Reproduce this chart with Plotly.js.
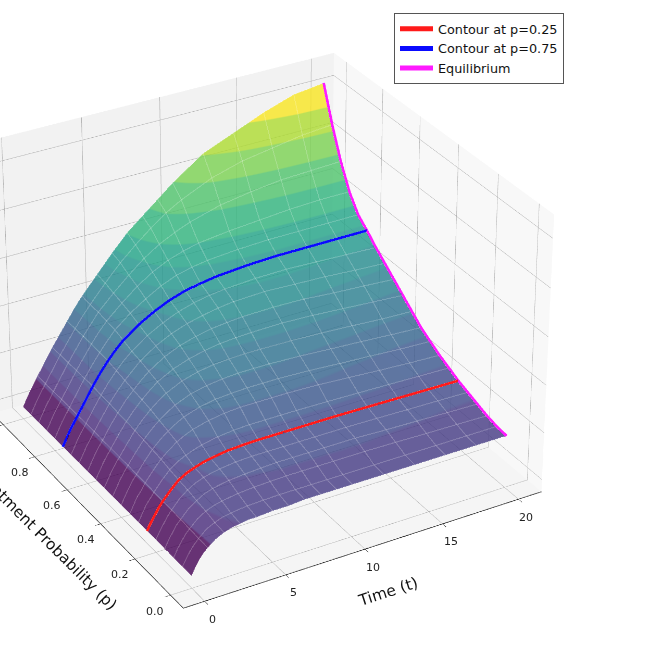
<!DOCTYPE html>
<html><head><meta charset="utf-8">
<script src="https://cdn.plot.ly/plotly-3.0.1.min.js"></script>
<style>html,body{margin:0;padding:0;width:655px;height:655px;overflow:hidden;background:#fff}
#wrap{position:absolute;left:0;top:0;width:655px;height:655px;overflow:hidden}
#plot{position:absolute}</style></head>
<body><div id="wrap"><div id="plot"></div></div>
<script>
var timeValues=[0,.25,.5,.75,1,1.5,2,2.5,3,3.5,4,5,6,7,8,9,10,12,14,16,18,20];
var probValues=[0,.05,.1,.15,.2,.25,.3,.35,.4,.45,.5,.55,.6,.65,.7,.75,.8,.85,.9,.95,1];
var zP000=[0,.03,.055,.075,.09,.115,.13,.14,.145,.15,.15,.155,.155,.16,.16,.16,.16,.16,.16,.16,.16,.16];
var zP005=[0,.03,.055,.075,.092,.12,.135,.147,.152,.157,.16,.163,.165,.165,.165,.165,.165,.165,.165,.165,.165,.165];
var zP010=[0,.03,.055,.078,.095,.125,.145,.157,.165,.17,.175,.18,.183,.185,.185,.185,.185,.185,.183,.18,.178,.175];
var zP015=[0,.03,.055,.08,.097,.13,.152,.17,.18,.187,.192,.198,.202,.205,.205,.205,.205,.205,.2,.197,.193,.19];
var zP020=[0,.03,.055,.08,.1,.135,.16,.178,.19,.198,.204,.212,.215,.215,.215,.215,.215,.215,.213,.21,.208,.205];
var zP025=[0,.03,.055,.08,.1,.135,.165,.183,.195,.205,.212,.222,.226,.228,.228,.228,.228,.228,.226,.224,.222,.22];
var zP030=[0,.03,.06,.08,.102,.14,.172,.195,.21,.222,.232,.245,.252,.255,.255,.255,.255,.253,.25,.247,.243,.24];
var zP035=[0,.03,.06,.08,.105,.145,.18,.207,.23,.247,.26,.277,.287,.292,.292,.292,.292,.288,.28,.272,.265,.26];
var zP040=[0,.03,.06,.085,.105,.147,.185,.215,.24,.26,.277,.298,.31,.315,.318,.318,.318,.313,.305,.298,.29,.285];
var zP045=[0,.03,.06,.085,.107,.15,.19,.222,.25,.272,.292,.318,.332,.34,.345,.345,.345,.34,.332,.325,.317,.31];
var zP050=[0,.03,.06,.085,.107,.152,.195,.23,.26,.285,.307,.337,.355,.365,.37,.372,.372,.37,.365,.358,.35,.345];
var zP055=[0,.03,.06,.085,.108,.155,.198,.235,.267,.295,.32,.353,.375,.39,.4,.405,.408,.41,.405,.397,.388,.38];
var zP060=[0,.03,.06,.085,.108,.157,.2,.24,.273,.303,.33,.37,.397,.415,.428,.435,.44,.443,.44,.43,.423,.415];
var zP065=[0,.03,.06,.085,.11,.158,.205,.245,.28,.31,.34,.382,.413,.435,.45,.462,.47,.475,.47,.465,.457,.45];
var zP070=[0,.03,.06,.085,.11,.16,.207,.25,.287,.32,.347,.392,.425,.452,.47,.482,.49,.498,.5,.495,.49,.485];
var zP075=[0,.03,.06,.085,.11,.16,.21,.255,.295,.33,.36,.405,.44,.468,.488,.5,.51,.52,.525,.525,.525,.525];
var zP080=[0,.03,.06,.085,.11,.16,.21,.255,.297,.335,.37,.42,.46,.495,.52,.535,.545,.555,.56,.56,.56,.56];
var zP085=[0,.03,.06,.085,.11,.16,.21,.255,.3,.34,.375,.43,.48,.52,.55,.57,.585,.6,.61,.62,.625,.625];
var zP090=[0,.03,.06,.085,.11,.16,.21,.255,.3,.34,.38,.44,.495,.545,.585,.615,.64,.675,.695,.71,.715,.72];
var zP095=[0,.03,.06,.085,.11,.16,.21,.255,.3,.342,.38,.45,.515,.57,.62,.665,.7,.755,.79,.81,.83,.84];
var zP100=[0,.03,.06,.085,.11,.16,.21,.255,.3,.345,.385,.455,.525,.59,.64,.69,.74,.825,.875,.925,.965,.98];
var legendNames=['Contour at p=0.25','Contour at p=0.75','Equilibrium'];
var lineColors=['#ff1a1a','#0a0aff','#ff1aff'];
var tTicks=[0,5,10,15,20];
var pTicks=[0,0.2,0.4,0.6,0.8,1.0];
var zTicks=[0,0.19,0.38,0.57,0.76,0.95];
var bandEdges=[0,.1,.15,.2,.25,.3,.35,.4,.45,.5,.55,.6,.68,.76,.84,.92,1];
var bandColors=['#440154','#472a7a','#443983','#3f4889','#39568c','#33638d','#2d708e','#287d8e','#238a8d','#1f968b','#20a386','#2fb47c','#4ec36b','#7ad151','#addc30','#f8e621'];

var zGrid=[zP000,zP005,zP010,zP015,zP020,zP025,zP030,zP035,zP040,zP045,zP050,zP055,zP060,zP065,zP070,zP075,zP080,zP085,zP090,zP095,zP100];
var scale=[];
bandColors.forEach(function(c,i){scale.push([bandEdges[i],c]);scale.push([bandEdges[i+1],c]);});
var lastCol=timeValues.length-1;

var W=3000, cx=262, cy=318;
var el=document.getElementById('plot');
el.style.left=(cx-W/2)+'px'; el.style.top=(cy-W/2)+'px';
el.style.width=W+'px'; el.style.height=W+'px';

var az=-120*Math.PI/180, elv=30*Math.PI/180, r=8.82;
var tMin=-1.3,pMin=-0.0708,zMin=-0.05;
var common={showbackground:true,gridcolor:'#b4b4b4',gridwidth:1,showline:true,linecolor:'#333',linewidth:1.5,
  ticks:'outside',ticklen:5,tickcolor:'#333',showspikes:false,zeroline:false,showticklabels:false,title:{text:''}};
var labelFont={family:'DejaVu Sans',size:11,color:'#222'};
var titleFont={family:'DejaVu Sans',size:15.5,color:'#111'};
var sceneNotes=[];
tTicks.forEach(function(t){sceneNotes.push({x:t,y:pMin,z:zMin,text:String(t),showarrow:false,font:labelFont,xshift:8,yshift:-18});});
pTicks.forEach(function(p){sceneNotes.push({x:tMin,y:p,z:zMin,text:p.toFixed(1),showarrow:false,font:labelFont,xshift:-15,yshift:-16});});
sceneNotes.push({x:11,y:pMin,z:zMin,text:'Time (t)',showarrow:false,font:titleFont,xshift:7,yshift:-48,textangle:-18});
sceneNotes.push({x:tMin,y:0.5,z:zMin,text:'Treatment Probability (p)',showarrow:false,font:titleFont,xshift:-38,yshift:-32,textangle:45});
var mesh=[];
timeValues.forEach(function(t,j){ if(t!==Math.floor(t)) return; mesh.push({x:probValues.map(function(){return t;}),y:probValues,z:zGrid.map(function(row){return row[j];})});});
probValues.forEach(function(p,i){mesh.push({x:timeValues,y:timeValues.map(function(){return p;}),z:zGrid[i]});});
var data=[
 {type:'surface',x:timeValues,y:probValues,z:zGrid,colorscale:scale,cmin:0,cmax:0.98,opacity:0.8,showscale:false,
  lighting:{ambient:1,diffuse:0,specular:0,roughness:1,fresnel:0},hoverinfo:'skip',showlegend:false},
 {type:'scatter3d',mode:'lines',name:legendNames[0],x:timeValues,y:timeValues.map(function(){return 0.25;}),z:zP025,line:{color:lineColors[0],width:5}},
 {type:'scatter3d',mode:'lines',name:legendNames[1],x:timeValues,y:timeValues.map(function(){return 0.75;}),z:zP075,line:{color:lineColors[1],width:5}},
 {type:'scatter3d',mode:'lines',name:legendNames[2],x:probValues.map(function(){return timeValues[lastCol];}),y:probValues,z:zGrid.map(function(row){return row[lastCol];}),line:{color:lineColors[2],width:5}}
];
mesh.forEach(function(m){data.push({type:'scatter3d',mode:'lines',x:m.x,y:m.y,z:m.z,showlegend:false,hoverinfo:'skip',opacity:0.2,line:{color:'#fff',width:2}});});
var layout={width:W,height:W,margin:{l:0,r:0,t:0,b:0},paper_bgcolor:'rgba(0,0,0,0)',showlegend:true,
 font:{family:'DejaVu Sans',color:'#111'},
 legend:{x:(564-(cx-W/2))/W,xanchor:'right',y:1-(13-(cy-W/2))/W,yanchor:'top',bgcolor:'#fff',bordercolor:'#555',borderwidth:1,itemwidth:33,font:{family:'DejaVu Sans',size:12.8,color:'#111'},tracegroupgap:0},
 scene:{domain:{x:[0,1],y:[0,1]},aspectmode:'manual',aspectratio:{x:1,y:1,z:0.77},annotations:sceneNotes,
  camera:{eye:{x:r*Math.cos(elv)*Math.cos(az),y:r*Math.cos(elv)*Math.sin(az),z:r*Math.sin(elv)},center:{x:0,y:0,z:0},up:{x:0,y:0,z:1}},
  xaxis:Object.assign({},common,{range:[tMin,21.53],tickvals:tTicks,backgroundcolor:'rgb(248,248,248)'}),
  yaxis:Object.assign({},common,{range:[pMin,1.0708],tickvals:pTicks,backgroundcolor:'rgb(242,242,242)'}),
  zaxis:Object.assign({},common,{range:[zMin,1.04],tickvals:zTicks,ticks:'',backgroundcolor:'rgb(245,245,245)'})
 }};
Plotly.newPlot(el,data,layout,{displayModeBar:false});
</script></body></html>
